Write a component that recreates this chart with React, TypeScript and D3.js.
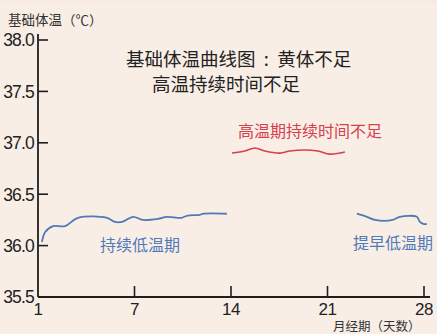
import React from "react";
import * as d3 from "d3";

const W = 437;
const H = 334;

const yTicks = [35.5, 36.0, 36.5, 37.0, 37.5, 38.0];
const xTickValues = [0, 7, 14, 21, 28];
const xTickLabels = ["1", "7", "14", "21", "28"];

const lowPhaseDays = [0.29, 0.51, 1.09, 1.96, 2.9, 5.0, 5.58, 6.1, 6.9, 7.6, 8.7, 9.35, 10.4, 10.8, 11.75, 12.0, 13.7];
const lowPhaseTemps = [36.035, 36.13, 36.19, 36.19, 36.27, 36.27, 36.23, 36.23, 36.28, 36.25, 36.26, 36.28, 36.27, 36.29, 36.3, 36.31, 36.31];

const highPhaseDays = [14.07, 15.0, 15.74, 16.46, 17.55, 18.27, 19.36, 20.3, 21.17, 22.26];
const highPhaseTemps = [36.9, 36.92, 36.95, 36.92, 36.9, 36.92, 36.93, 36.92, 36.89, 36.91];

const earlyLowDays = [23.13, 23.86, 24.44, 25.74, 26.25, 27.48, 27.7, 27.99, 28.2];
const earlyLowTemps = [36.31, 36.28, 36.25, 36.25, 36.28, 36.28, 36.23, 36.21, 36.21];

const FONT = "'Noto Sans CJK SC', 'Noto Sans', sans-serif";

export default function App() {
  const x = d3.scaleLinear().domain([0, 28]).range([38, 424]);
  const y = d3.scaleLinear().domain([35.5, 38.0]).range([297, 40]);
  const line = d3
    .line<[number, number]>()
    .x((d) => x(d[0]))
    .y((d) => y(d[1]))
    .curve(d3.curveCatmullRom.alpha(0.5));
  const toPts = (ds: number[], ts: number[]) => ds.map((d, i) => [d, ts[i]] as [number, number]);

  const blue = "#4f7ab8";
  const red = "#d6404d";
  const axis = "#1e1e1e";

  return (
    <svg
      width={W}
      height={H}
      style={{ position: "absolute", left: 0, top: 0, display: "block" }}
    >
      <rect x={0} y={0} width={W} height={H} fill="#f9eee6" />
      <rect x={0} y={0} width={W} height={3} fill="#f8e9e4" />

      {/* axes */}
      <line x1={x(0)} x2={x(0)} y1={34} y2={y(35.5)} stroke={axis} strokeWidth={1.8} />
      <line x1={x(0)} x2={430} y1={y(35.5)} y2={y(35.5)} stroke={axis} strokeWidth={1.8} />

      {yTicks.map((t) => (
        <g key={t}>
          {t > 35.5 && (
            <line x1={x(0)} x2={x(0) + 10} y1={y(t)} y2={y(t)} stroke={axis} strokeWidth={1.6} />
          )}
          <text
            x={34}
            y={y(t)}
            dy="0.36em"
            textAnchor="end"
            fontFamily="'Liberation Sans', Arial, sans-serif"
            fontSize={17.5}
            letterSpacing={-0.8}
            fill="#222"
          >
            {t.toFixed(1)}
          </text>
        </g>
      ))}

      {xTickValues.map((v, i) => (
        <g key={v}>
          {v > 0 && (
            <line x1={x(v)} x2={x(v)} y1={y(35.5)} y2={y(35.5) - 11} stroke={axis} strokeWidth={1.6} />
          )}
          <text
            x={x(v)}
            y={315}
            textAnchor="middle"
            fontFamily="'Liberation Sans', Arial, sans-serif"
            fontSize={17}
            letterSpacing={-0.5}
            fill="#222"
          >
            {xTickLabels[i]}
          </text>
        </g>
      ))}

      {/* axis titles */}
      <text x={8} y={25} fontFamily={FONT} fontSize={13.5} fill="#333">
        基础体温（℃）
      </text>
      <text x={333} y={331} fontFamily={FONT} fontSize={12.5} fill="#333">
        月经期（天数）
      </text>

      {/* title */}
      <text x={126} y={66} fontFamily={FONT} fontSize={18.5} fill="#222">
        {"基础体温曲线图\u00a0\u00a0:\u00a0\u00a0黄体不足"}
      </text>
      <text x={152} y={91} fontFamily={FONT} fontSize={18.5} fill="#222">
        高温持续时间不足
      </text>

      {/* lines */}
      <path d={line(toPts(lowPhaseDays, lowPhaseTemps)) || ""} fill="none" stroke={blue} strokeWidth={1.8} />
      <path d={line(toPts(highPhaseDays, highPhaseTemps)) || ""} fill="none" stroke={red} strokeWidth={1.6} />
      <path d={line(toPts(earlyLowDays, earlyLowTemps)) || ""} fill="none" stroke={blue} strokeWidth={1.8} />

      {/* labels */}
      <text x={238} y={137} fontFamily={FONT} fontSize={16} fill={red}>
        高温期持续时间不足
      </text>
      <text x={100} y={251} fontFamily={FONT} fontSize={16} fill={blue}>
        持续低温期
      </text>
      <text x={353} y={249} fontFamily={FONT} fontSize={16} fill={blue}>
        提早低温期
      </text>
    </svg>
  );
}
